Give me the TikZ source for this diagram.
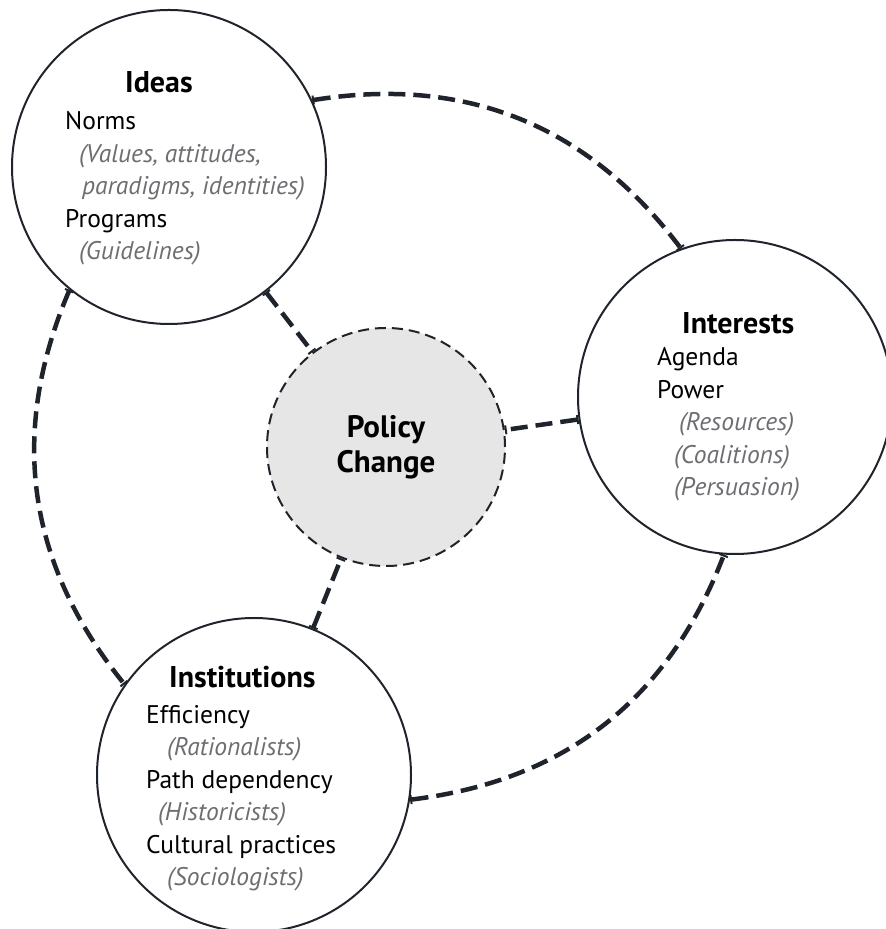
\documentclass[tikz,border=0pt]{standalone}
\usepackage{fontspec}
\setmainfont{PT Sans}
\usepackage{tikz}
\usetikzlibrary{arrows.meta,positioning}

\definecolor{ink}{HTML}{1F242C}
\definecolor{note}{HTML}{6D6E71}
\definecolor{corefill}{HTML}{E6E6E6}

\newcommand\topictitle[1]{{\fontsize{30}{32}\selectfont\bfseries #1}}
\newcommand\topicnote[1]{{\itshape\color{note}#1}}

\begin{document}
\begin{tikzpicture}[
  x=1pt, y=1pt,
  tick/.tip={Bar[width=9pt,line width=2pt]},
  topic/.style={circle, draw=ink, line width=2pt, fill=white,
                minimum size=314pt, inner sep=0pt},
  core/.style={circle, draw=ink, line width=2pt, fill=corefill,
               dash pattern=on 11pt off 6pt, minimum size=238pt,
               align=center, inner sep=0pt,
               font=\fontsize{31}{35}\selectfont\bfseries},
  txt/.style={align=left, inner sep=0pt, anchor=north west,
              font=\fontsize{25.5}{32.5}\selectfont},
  link/.style={draw=ink, line width=4.5pt, dash pattern=on 17pt off 8pt,
               tick-tick},
]
\path[use as bounding box, fill=white] (0,0) rectangle (886,929);

% the three outer factors and the core
\node[topic] (ideas) at (169,762) {};
\node[topic] (interests) at (735,532) {};
\node[topic] (institutions) at (254,154) {};
\node[core] (policy) at (386,482) {Policy\\Change};

% ring between the outer circles
\draw[link] (ideas.25) to[bend left=31] (interests.110);
\draw[link] (ideas.231) to[bend right=31] (institutions.145);
\draw[link] (institutions.351) to[bend right=31] (interests.266);

% spokes to the core
\draw[link] (ideas) -- (policy);
\draw[link] (interests) -- (policy);
\draw[link] (institutions) -- (policy);

% circle contents
\node[txt] (ideas-text) at (65,858) {%
  \hspace*{60pt}\topictitle{Ideas}\\[5pt]
  Norms\\
  \hspace*{14pt}\topicnote{(Values, attitudes,}\\
  \hspace*{17pt}\topicnote{paradigms, identities)}\\
  Programs\\
  \hspace*{14pt}\topicnote{(Guidelines)}};
\node[txt] (interests-text) at (657,617) {%
  \hspace*{25pt}\topictitle{Interests}\\[0pt]
  Agenda\\
  Power\\
  \hspace*{22pt}\topicnote{(Resources)}\\
  \hspace*{17pt}\topicnote{(Coalitions)}\\
  \hspace*{17pt}\topicnote{(Persuasion)}};
\node[txt] (institutions-text) at (146,263) {%
  \hspace*{23pt}\topictitle{Institutions}\\[3pt]
  Efficiency\\
  \hspace*{21pt}\topicnote{(Rationalists)}\\
  Path dependency\\
  \hspace*{12pt}\topicnote{(Historicists)}\\
  Cultural practices\\
  \hspace*{21pt}\topicnote{(Sociologists)}};
\end{tikzpicture}
\end{document}
